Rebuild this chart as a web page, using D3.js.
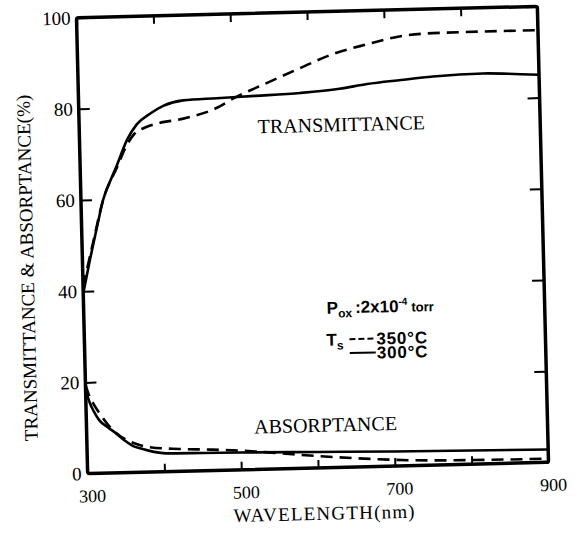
<!DOCTYPE html>
<html>
<head>
<meta charset="utf-8">
<script src="https://cdn.jsdelivr.net/npm/d3@7"></script>
<style>
  body { margin: 0; background: #fff; }
  svg { display: block; }
</style>
</head>
<body>
<svg id="chart" width="575" height="539"></svg>
<script>
// values: wavelength (nm) vs percent
var transWl300 = [300, 310, 320, 329, 340, 348, 362, 375, 393, 410, 436, 480, 530, 589, 640, 676, 720, 762, 827, 860, 900]
var trans300   = [39.5, 47, 54, 60, 64.5, 67.5, 73, 76.3, 78.6, 80.2, 81.3, 81.6, 81.9, 82.3, 83.0, 83.9, 84.6, 85.2, 85.6, 85.4, 85.0]

var transWl350 = [300, 306, 315, 329, 348, 362, 372, 385, 400, 436, 480, 501, 546, 590, 633, 677, 721, 763, 828, 900]
var trans350   = [41, 45, 51, 60, 67, 72, 74.3, 75.5, 76.3, 77.3, 79.5, 81.4, 84.7, 87.8, 90.7, 92.6, 94.2, 94.7, 94.8, 94.8]

var absWl300 = [300, 305, 310, 317, 328, 338, 348, 359, 370, 380, 403, 450, 500, 600, 700, 800, 900]
var abs300   = [18.5, 15.5, 13.6, 11.6, 10, 8.7, 7.2, 5.9, 5.2, 4.7, 4.0, 3.9, 3.8, 3.5, 3.2, 3.0, 2.8]

var absWl350 = [300, 305, 310, 320, 330, 340, 360, 380, 420, 460, 500, 540, 600, 660, 720, 800, 900]
var abs350   = [19.5, 16.8, 15.2, 12.5, 10.2, 8.5, 6.5, 5.5, 4.9, 4.6, 4.2, 3.6, 2.6, 1.8, 1.2, 0.9, 0.8]

var xTicks = [300, 400, 500, 600, 700, 800, 900]
var xTickLabels = {300: "300", 500: "500", 700: "700", 900: "900"}
var yTicks = [0, 20, 40, 60, 80, 100]

var margin = {top: 12, left: 82}
var width = 461, height = 456
var skew = -1.4   // the original scan sits slightly rotated

var svg = d3.select("#chart")
var g = svg.append("g")
    .attr("transform", "translate(" + margin.left + "," + margin.top + ") rotate(" + skew + "," + width / 2 + "," + height / 2 + ")")

var x = d3.scaleLinear().domain([300, 900]).range([0, width])
var y = d3.scaleLinear().domain([0, 100]).range([height, 0])

// axes, ticks pointing inward
g.append("g")
    .call(d3.axisLeft(y).tickValues(yTicks).tickSizeInner(-11).tickSizeOuter(0).tickPadding(6))
    .selectAll("text").style("font-size", "19px")
g.append("g")
    .attr("transform", "translate(0," + height + ")")
    .call(d3.axisBottom(x).tickValues(xTicks).tickFormat(function(d) { return xTickLabels[d] || "" })
      .tickSizeInner(-8).tickSizeOuter(0).tickPadding(16))
    .selectAll("text").attr("dx", 4).style("font-size", "18px")
g.append("g")
    .call(d3.axisTop(x).tickValues(xTicks).tickFormat("").tickSizeInner(-8).tickSizeOuter(0))
g.append("g")
    .attr("transform", "translate(" + width + ",0)")
    .call(d3.axisRight(y).tickValues(yTicks).tickFormat("").tickSizeInner(-12).tickSizeOuter(0))

g.selectAll(".domain").remove()
g.selectAll(".tick line").attr("stroke", "#000").attr("stroke-width", 2)
g.selectAll(".tick text").attr("fill", "#000").style("font-family", '"Liberation Serif", serif')

// frame
g.append("rect")
    .attr("width", width)
    .attr("height", height)
    .attr("rx", 2)
    .attr("fill", "none")
    .attr("stroke", "#000")
    .attr("stroke-width", 3.5)

// curves
function addCurve(xs, ys, dashed) {
  var line = d3.line()
      .x(function(d, i) { return x(xs[i]) })
      .y(function(d) { return y(d) })
      .curve(d3.curveMonotoneX)
  g.append("path")
      .datum(ys)
      .attr("fill", "none")
      .attr("stroke", "#000")
      .attr("stroke-width", 2.6)
      .attr("stroke-dasharray", dashed ? "12,7" : null)
      .attr("d", line)
}
addCurve(transWl300, trans300, false)
addCurve(transWl350, trans350, true)
addCurve(absWl300, abs300, false)
addCurve(absWl350, abs350, true)

// labels
var serif = '"Liberation Serif", "Times New Roman", serif'
g.append("text")
    .attr("x", 262).attr("y", 120)
    .attr("text-anchor", "middle")
    .style("font-family", serif).style("font-size", "20px")
    .text("TRANSMITTANCE")
g.append("text")
    .attr("x", 239).attr("y", 420)
    .attr("text-anchor", "middle")
    .style("font-family", serif).style("font-size", "20px")
    .text("ABSORPTANCE")

g.append("text")
    .attr("x", 236).attr("y", 508)
    .attr("text-anchor", "middle")
    .style("font-family", serif).style("font-size", "19px")
    .style("letter-spacing", "1.2px")
    .text("WAVELENGTH(nm)")
g.append("text")
    .attr("transform", "translate(-49,249) rotate(-90)")
    .attr("text-anchor", "middle")
    .style("font-family", serif).style("font-size", "19px")
    .text("TRANSMITTANCE & ABSORPTANCE(%)")

// legend
var legend = g.append("g")
    .style("font-family", '"Liberation Sans", Arial, sans-serif')
    .style("font-weight", "bold")
    .style("font-size", "17px")

var l1 = legend.append("text").attr("x", 243).attr("y", 302)
l1.append("tspan").text("P")
l1.append("tspan").attr("dy", 4).style("font-size", "12px").text("ox")
l1.append("tspan").attr("dy", -4).attr("dx", 3).text(":2x10")
l1.append("tspan").attr("dy", -7).style("font-size", "10px").text("-4")
l1.append("tspan").attr("dy", 7).attr("dx", 4).style("font-size", "13px").text("torr")

var l2 = legend.append("text").attr("x", 242).attr("y", 334)
l2.append("tspan").text("T")
l2.append("tspan").attr("dy", 4).style("font-size", "12px").text("s")

var legendLabels = ["350°C", "300°C"]
var legendDashed = [true, false]
var legendRows = [334, 348]
legendLabels.forEach(function(lab, i) {
  legend.append("line")
      .attr("x1", 265).attr("x2", 291)
      .attr("y1", legendRows[i] - 6).attr("y2", legendRows[i] - 6)
      .attr("stroke", "#000")
      .attr("stroke-width", 2)
      .attr("stroke-dasharray", legendDashed[i] ? "6,3" : null)
  legend.append("text")
      .attr("x", 292).attr("y", legendRows[i])
      .style("letter-spacing", "0.8px")
      .text(lab)
})
</script>
</body>
</html>
